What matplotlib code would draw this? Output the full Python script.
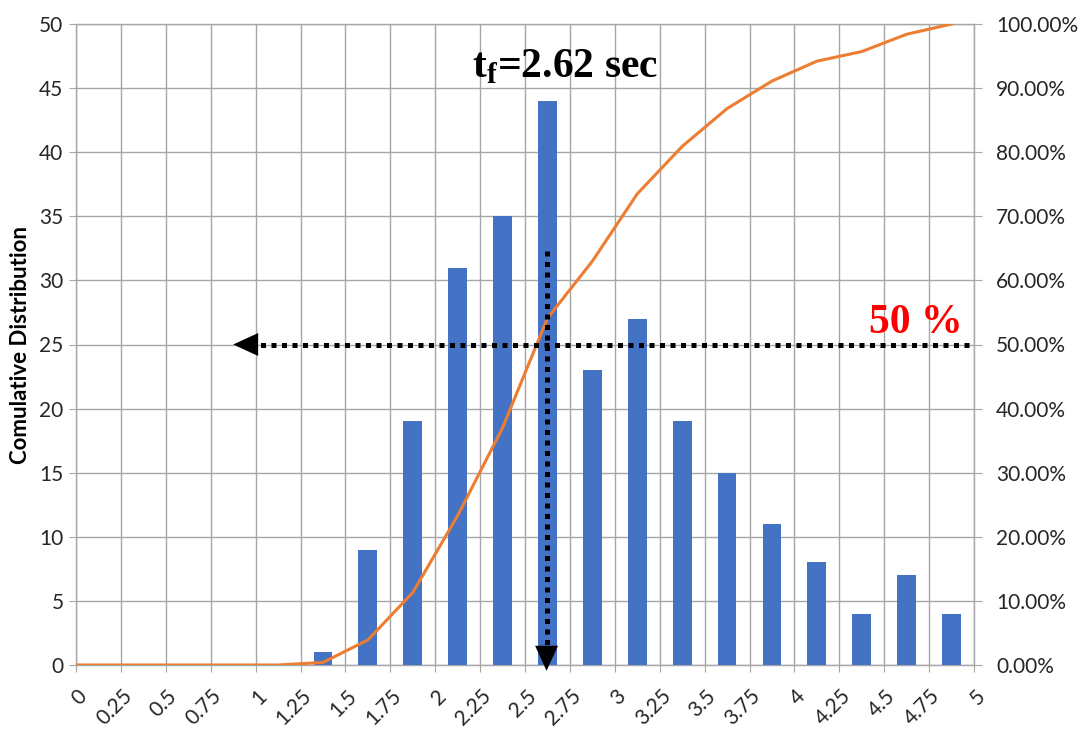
import matplotlib
matplotlib.use('Agg')
import matplotlib.pyplot as plt
from matplotlib.transforms import ScaledTranslation

plt.rcParams.update({'font.family': 'Lato', 'font.size': 15})

# ── Data ──
bin_centers = [1.375, 1.625, 1.875, 2.125, 2.375, 2.625, 2.875, 3.125,
               3.375, 3.625, 3.875, 4.125, 4.375, 4.625, 4.875]
counts = [1, 9, 19, 31, 35, 44, 23, 27, 19, 15, 11, 8, 4, 7, 4]

line_x = [-0.125, 0.125, 0.375, 0.625, 0.875, 1.125, 1.375, 1.625, 1.875,
          2.125, 2.375, 2.625, 2.875, 3.125, 3.375, 3.625, 3.875, 4.125,
          4.375, 4.625, 4.875]
cum_pct = [0, 0, 0, 0, 0, 0, 0.4, 3.9, 11.3, 23.3, 37.0, 54.1, 63.0, 73.5,
           80.9, 86.8, 91.1, 94.2, 95.7, 98.4, 100.0]

x_ticks = [0, 0.25, 0.5, 0.75, 1, 1.25, 1.5, 1.75, 2, 2.25, 2.5, 2.75, 3,
           3.25, 3.5, 3.75, 4, 4.25, 4.5, 4.75, 5]
x_labels = ['0', '0.25', '0.5', '0.75', '1', '1.25', '1.5', '1.75', '2',
            '2.25', '2.5', '2.75', '3', '3.25', '3.5', '3.75', '4', '4.25',
            '4.5', '4.75', '5']
left_ticks = [0, 5, 10, 15, 20, 25, 30, 35, 40, 45, 50]
right_ticks = [0, 10, 20, 30, 40, 50, 60, 70, 80, 90, 100]
right_labels = ['0.00%', '10.00%', '20.00%', '30.00%', '40.00%', '50.00%',
                '60.00%', '70.00%', '80.00%', '90.00%', '100.00%']

t_f = 2.62          # median time marker
half_count = 25     # 50 % level on the left axis
h_arrow = (0.875, 0.97, 5.0)      # tip, line start, line end
v_arrow = (-0.45, 0.75, 32.5)     # tip, line start, line end

GRID = '#a6a6a6'
TXT = '#262626'

fig = plt.figure(figsize=(10.86, 7.29), dpi=100)
ax = fig.add_axes([76 / 1086, 64 / 729, 898 / 1086, 641 / 729])

ax.bar(bin_centers, counts, width=0.105, color='#4472C4', zorder=3)
ax.set_xlim(0, 5)
ax.set_ylim(0, 50)
ax.set_axisbelow(True)
ax.grid(True, color=GRID, lw=1)
for s in ax.spines.values():
    s.set_color(GRID)
    s.set_linewidth(1)

ax.set_xticks(x_ticks)
ax.set_xticklabels(x_labels, rotation=45, ha='right', va='center',
                   rotation_mode='anchor')
ax.set_yticks(left_ticks)
ax.tick_params(axis='x', length=5, color=GRID, pad=15, labelcolor=TXT)
ax.tick_params(axis='y', length=5, color=GRID, pad=4, labelcolor=TXT)
shift = ScaledTranslation(8 / 100, 0, fig.dpi_scale_trans)
for lab in ax.get_xticklabels():
    lab.set_transform(lab.get_transform() + shift)

ax.set_ylabel('Comulative Distribution', fontsize=16, fontweight='bold',
              color='black', labelpad=6)

# ── Cumulative line on secondary axis ──
ax2 = ax.twinx()
ax2.plot(line_x, cum_pct, color='#ED7D31', lw=2.2, zorder=3)
ax2.set_ylim(0, 100)
ax2.set_yticks(right_ticks)
ax2.set_yticklabels(right_labels)
ax2.tick_params(axis='y', length=6, color=GRID, pad=10, labelcolor=TXT)
for s in ax2.spines.values():
    s.set_visible(False)

# ── Dotted guide lines with arrow heads ──
dots = dict(color='black', lw=3.6, linestyle=(0, (1, 1.1)),
            dash_capstyle='butt', transform=ax.transData, zorder=5,
            clip_on=False)
ax2.plot([h_arrow[1], h_arrow[2]], [half_count, half_count], **dots)
ax2.plot([t_f, t_f], [v_arrow[1], v_arrow[2]], **dots)

head = dict(arrowstyle='-|>,head_length=1.2,head_width=0.55', color='black',
            lw=0, shrinkA=0, shrinkB=0)
ax2.annotate('', xy=(h_arrow[0], half_count), xytext=(h_arrow[1], half_count),
             xycoords=ax.transData, textcoords=ax.transData,
             arrowprops=head, annotation_clip=False, zorder=6)
ax2.annotate('', xy=(t_f, v_arrow[0]), xytext=(t_f, v_arrow[1]),
             xycoords=ax.transData, textcoords=ax.transData,
             arrowprops=head, annotation_clip=False, zorder=6)

# ── Annotations ──
fig.text(565 / 1086, 1 - 77 / 729, r't$_\mathregular{f}$=2.62 sec',
         family='Liberation Serif', fontweight='bold', fontsize=30,
         color='black', ha='center', va='baseline')
fig.text(963 / 1086, 1 - 333 / 729, '50 %', family='Liberation Serif',
         fontweight='bold', fontsize=30, color='#FF0000',
         ha='right', va='baseline')

fig.savefig('out.png', dpi=100, facecolor='white')
